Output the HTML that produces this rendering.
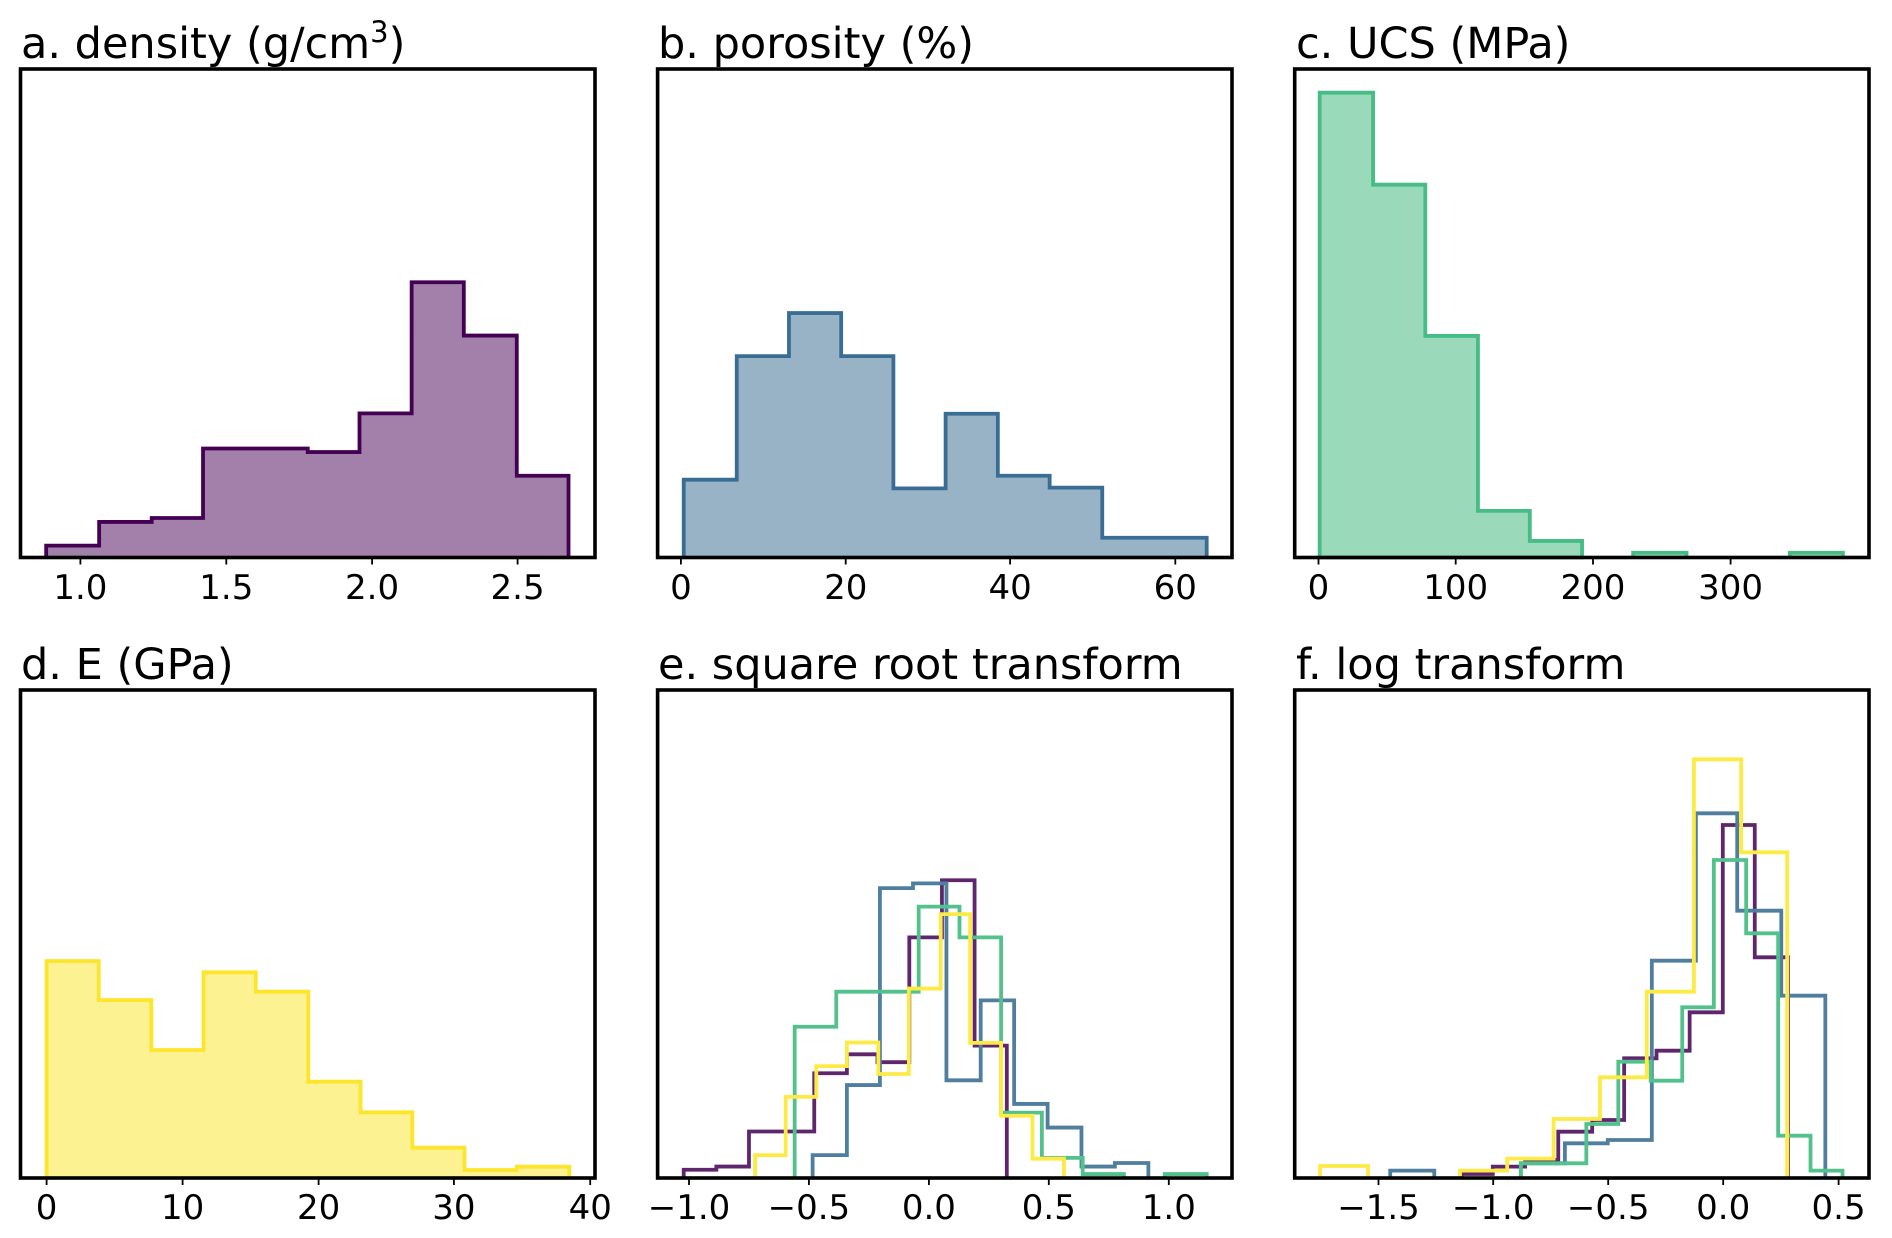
<!DOCTYPE html>
<html><head><meta charset="utf-8"><style>
html,body{margin:0;padding:0;background:#fff;}
svg{display:block;}
text{font-family:"DejaVu Sans","Liberation Sans",sans-serif;fill:#000;}
.t{font-size:43px;}
.k{font-size:34px;text-anchor:middle;}
path.s{fill:none;stroke-width:3.8;stroke-linejoin:miter;}
</style></head><body>
<svg width="1892" height="1238" viewBox="0 0 1892 1238" xmlns="http://www.w3.org/2000/svg">
<rect width="1892" height="1238" fill="#fff"/>
<!-- a -->
<g transform="matrix(0.40745 0 0 0.39491 0.128 -0.109)">
<path d="M113,1412 V1382 H243 V1322 H372 V1312 H498 V1136 H755 V1145 H882 V1047 H1010 V715 H1138 V850 H1268 V1205 H1395 V1412" fill="#a280aa" stroke="#440154" stroke-width="3.8" vector-effect="non-scaling-stroke"/>
</g>
<!-- b -->
<g transform="matrix(0.40795 0 0 0.39491 639.65 -0.109)">
<path d="M108,1412 V1215 H238 V902 H366 V793 H494 V902 H622 V1237 H750 V1048 H878 V1205 H1005 V1235 H1134 V1362 H1390 V1412" fill="#98b3c6" stroke="#3a6d94" stroke-width="3.8" vector-effect="non-scaling-stroke"/>
</g>
<!-- c -->
<g transform="matrix(0.38988 0 0 0.39491 1278.33 -0.109)">
<path d="M106,1412 V235 H243 V468 H377 V851 H512 V1294 H645 V1370 H779 V1412 Z" fill="#9adabb" stroke="#45bd84" stroke-width="3.8" vector-effect="non-scaling-stroke"/>
<path d="M910,1412 V1400 H1047 V1412 M1312,1412 V1400 H1448 V1412" fill="#9adabb" stroke="#45bd84" stroke-width="3.8" vector-effect="non-scaling-stroke"/>
</g>
<!-- d -->
<g transform="matrix(0.39539 0 0 0.33333 -0.06 920)">
<path d="M118,773 V123 H250 V240 H383 V390 H515 V157 H647 V215 H780 V485 H912 V577 H1043 V683 H1175 V750 H1307 V740 H1440 V773" fill="#fdf292" stroke="#fde52c" stroke-width="3.8" vector-effect="non-scaling-stroke"/>
</g>
<!-- e -->
<g transform="matrix(0.40795 0 0 0.39386 639.65 620.29)" opacity="0.85">
<path class="s" vector-effect="non-scaling-stroke" stroke="#440154" d="M108,1415 V1395 H188 V1387 H268 V1298 H428 V1150 H508 V1102 H583 V1122 H661 V805 H741 V660 H821 V1080 H900 V1415"/>
<path class="s" vector-effect="non-scaling-stroke" stroke="#31688e" d="M424,1415 V1358 H508 V1180 H589 V680 H670 V668 H752 V1168 H836 V965 H918 V1228 H1000 V1288 H1083 V1387 H1165 V1378 H1247 V1415"/>
<path class="s" vector-effect="non-scaling-stroke" stroke="#35b779" d="M380,1415 V1032 H482 V943 H684 V727 H784 V805 H886 V1250 H986 V1365 H1086 V1406 H1187 V1415 M1287,1415 V1406 H1390 V1415"/>
<path class="s" vector-effect="non-scaling-stroke" stroke="#fde725" d="M283,1415 V1358 H358 V1210 H433 V1132 H508 V1072 H585 V1152 H660 V935 H738 V746 H810 V1073 H886 V1258 H963 V1367 H1040 V1415"/>
</g>
<!-- f -->
<g transform="matrix(0.38988 0 0 0.33333 1278.33 720)" opacity="0.85">
<path class="s" vector-effect="non-scaling-stroke" stroke="#440154" d="M470,1375 V1362 H550 V1340 H633 V1320 H718 V1235 H805 V1200 H887 V1015 H970 V992 H1055 V877 H1140 V315 H1222 V712 H1307 V1375"/>
<path class="s" vector-effect="non-scaling-stroke" stroke="#31688e" d="M287,1375 V1352 H400 V1375 M622,1375 V1330 H735 V1270 H845 V1260 H958 V722 H1071 V280 H1177 V572 H1290 V827 H1403 V1375"/>
<path class="s" vector-effect="non-scaling-stroke" stroke="#35b779" d="M622,1375 V1330 H790 V1212 H872 V1025 H955 V1082 H1036 V862 H1117 V420 H1200 V640 H1282 V1247 H1365 V1352 H1447 V1375"/>
<path class="s" vector-effect="non-scaling-stroke" stroke="#fde725" d="M107,1375 V1338 H230 V1375 M466,1375 V1352 H587 V1316 H706 V1197 H825 V1072 H945 V815 H1066 V118 H1187 V397 H1305 V1375"/>
</g>
<!-- spines -->
<g fill="none" stroke="#000" stroke-width="3.6">
<rect x="20.5" y="69" width="574.5" height="488.5"/>
<rect x="657.6" y="69" width="574.4" height="488.5"/>
<rect x="1294.7" y="69" width="574.3" height="488.5"/>
<rect x="20.5" y="690" width="574.5" height="488"/>
<rect x="657.6" y="690" width="574.4" height="488"/>
<rect x="1294.7" y="690" width="574.3" height="488"/>
</g>
<!-- ticks -->
<g stroke="#000" stroke-width="1.8">
<path d="M80.4,557.5v7 M226.3,557.5v7 M372.1,557.5v7 M517.6,557.5v7"/>
<path d="M680.9,557.5v7 M845.7,557.5v7 M1010.1,557.5v7 M1175.3,557.5v7"/>
<path d="M1318.5,557.5v7 M1455.7,557.5v7 M1593,557.5v7 M1730.6,557.5v7"/>
<path d="M46.6,1178v7 M182.6,1178v7 M318.6,1178v7 M453.9,1178v7 M590.2,1178v7"/>
<path d="M689,1178v7 M808.9,1178v7 M928.9,1178v7 M1048.8,1178v7 M1168.8,1178v7"/>
<path d="M1378.5,1178v7 M1493.2,1178v7 M1608.2,1178v7 M1723.2,1178v7 M1838.6,1178v7"/>
</g>
<g class="k">
<text class="k" x="80.4" y="599">1.0</text><text class="k" x="226.3" y="599">1.5</text><text class="k" x="372.1" y="599">2.0</text><text class="k" x="517.6" y="599">2.5</text>
<text class="k" x="680.9" y="599">0</text><text class="k" x="845.7" y="599">20</text><text class="k" x="1010.1" y="599">40</text><text class="k" x="1175.3" y="599">60</text>
<text class="k" x="1318.5" y="599">0</text><text class="k" x="1455.7" y="599">100</text><text class="k" x="1593" y="599">200</text><text class="k" x="1730.6" y="599">300</text>
<text class="k" x="46.6" y="1219">0</text><text class="k" x="182.6" y="1219">10</text><text class="k" x="318.6" y="1219">20</text><text class="k" x="453.9" y="1219">30</text><text class="k" x="590.2" y="1219">40</text>
<text class="k" x="689" y="1219">−1.0</text><text class="k" x="808.9" y="1219">−0.5</text><text class="k" x="928.9" y="1219">0.0</text><text class="k" x="1048.8" y="1219">0.5</text><text class="k" x="1168.8" y="1219">1.0</text>
<text class="k" x="1378.5" y="1219">−1.5</text><text class="k" x="1493.2" y="1219">−1.0</text><text class="k" x="1608.2" y="1219">−0.5</text><text class="k" x="1723.2" y="1219">0.0</text><text class="k" x="1838.6" y="1219">0.5</text>
</g>
<text class="t" x="21" y="58">a. density (g/cm<tspan font-size="29" dy="-16">3</tspan><tspan dy="16">)</tspan></text>
<text class="t" x="658" y="58">b. porosity (%)</text>
<text class="t" x="1296" y="58">c. UCS (MPa)</text>
<text class="t" x="21" y="679">d. E (GPa)</text>
<text class="t" x="658" y="679">e. square root transform</text>
<text class="t" x="1296" y="679">f. log transform</text>
</svg>
</body></html>
